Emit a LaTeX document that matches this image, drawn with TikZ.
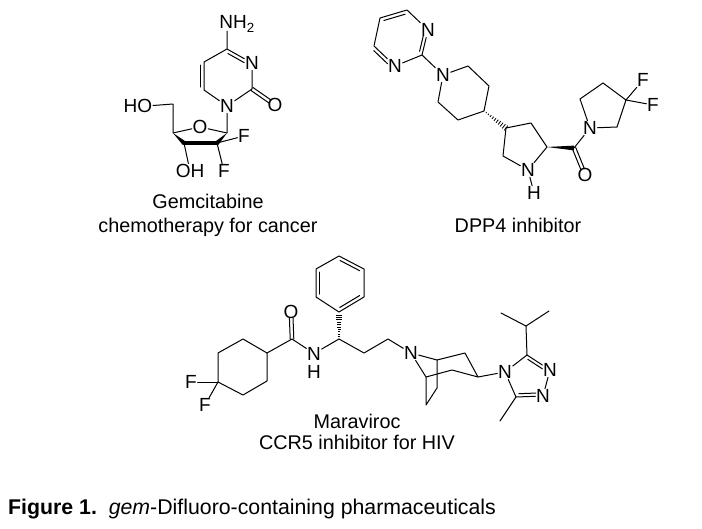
\documentclass[tikz,border=0pt]{standalone}
\usepackage{fontspec}
\setmainfont{Liberation Sans}
\usetikzlibrary{calc}
\tikzset{
  bond/.style={line width=1pt,line cap=round,line join=round,black},
  atom/.style={inner sep=0.6pt,font=\fontsize{19}{20}\selectfont,text=black},
  caption/.style={inner sep=0pt,font=\fontsize{19.8}{22}\selectfont,text=black,anchor=base},
  figcap/.style={inner sep=0pt,font=\fontsize{21.3}{24}\selectfont,text=black,anchor=base west},
}
\newcommand{\innerbond}[5]{\draw[bond,shorten <=#1pt,shorten >=#2pt] ($(#4)!#3pt!90:(#5)$) -- ($(#5)!#3pt!-90:(#4)$);}
\newcommand{\wedgebond}[3]{\fill[black] (#1) -- ($(#2)!#3pt!90:(#1)$) -- ($(#2)!#3pt!-90:(#1)$) -- cycle;}
\newcommand{\hashbond}[3]{\foreach \t in {0.1,0.2,...,1.01} {%
  \coordinate (hp) at ($(#1)!\t!(#2)$);
  \pgfmathsetmacro{\w}{\t*#3+0.3}
  \draw[black,line width=0.8pt] ($(hp)!\w pt!90:(#1)$) -- ($(hp)!\w pt!-90:(#1)$);}}
\begin{document}
\begin{tikzpicture}[x=1pt,y=-1pt]
\useasboundingbox[fill=white] (0,0) rectangle (702,528);
%% ---------- Gemcitabine
\node[atom,anchor=west] (gnh) at (218.6,24) {NH\textsubscript{2}};
\coordinate (gnhb) at (227,31);
\coordinate (g4) at (227,49);
\node[atom] (gn3) at (252,63) {N};
\coordinate (g5) at (204,62);
\coordinate (g6) at (204,90);
\node[atom] (gn1) at (227,106) {N};
\coordinate (g2) at (252,89);
\node[atom] (go2) at (275,105) {O};
\coordinate (g1p) at (227,133);
\node[atom] (gor) at (200,127) {O};
\coordinate (g4p) at (173,133);
\coordinate (g3p) at (184,143);
\coordinate (g2p) at (217,143);
\coordinate (gch) at (173,104);
\node[atom,anchor=east] (gho) at (153,105.5) {HO};
\node[atom] (goh) at (190,171) {OH};
\node[atom] (gf1) at (244,136) {F};
\node[atom] (gf2) at (224,171) {F};
\draw[bond] (gnhb) -- (g4) -- (gn3) -- (g2) -- (gn1) -- (g6) -- (g5) -- (g4);
\innerbond{3}{3}{3.5}{g6}{g5}
\innerbond{3}{7}{-3.5}{g4}{gn3}
\innerbond{0}{6}{1.8}{g2}{go2}
\innerbond{0}{6}{-1.8}{g2}{go2}
\draw[bond] (gn1) -- (g1p) -- (gor) -- (g4p) -- (gch) -- (gho.east);
\wedgebond{g4p}{g3p}{2.2}
\wedgebond{g1p}{g2p}{2.2}
\draw[black,line width=4.2pt,line cap=round] (g3p) -- (g2p);
\draw[bond] (g3p) -- (goh);
\draw[bond] (g2p) -- (gf1);
\draw[bond] (g2p) -- (gf2);
\node[caption] (gt1) at (208,208.5) {Gemcitabine};
\node[caption] (gt2) at (208,232) {chemotherapy for cancer};
%% ---------- DPP4 inhibitor
\coordinate (d1) at (407,10);
\node[atom] (dn1) at (428,30) {N};
\coordinate (d2) at (422,55);
\node[atom] (dn3) at (395,66) {N};
\coordinate (d4) at (374,46);
\coordinate (d5) at (380,18);
\node[atom] (dn) at (443,75) {N};
\coordinate (p1) at (468,66);
\coordinate (p2) at (489,86);
\coordinate (p3) at (484,111);
\coordinate (p4) at (458,120);
\coordinate (p5) at (438,102);
\coordinate (r1) at (506,128);
\coordinate (r2) at (531,123);
\coordinate (r3) at (547,147);
\node[atom] (rn) at (528,170) {N};
\coordinate (r5) at (503,156);
\node[atom] (rh) at (534,193) {H};
\coordinate (dc) at (574,148);
\node[atom] (do) at (585,175) {O};
\node[atom] (dn2) at (590,128) {N};
\coordinate (q1) at (580,99);
\coordinate (q2) at (603,83);
\coordinate (q3) at (626,100);
\coordinate (q4) at (617,127);
\node[atom] (df1) at (643,80) {F};
\node[atom] (df2) at (653,105) {F};
\draw[bond] (d1) -- (dn1) -- (d2) -- (dn3) -- (d4) -- (d5) -- (d1);
\innerbond{3}{3}{-3.5}{d5}{d1}
\innerbond{6}{3}{-3.2}{dn1}{d2}
\innerbond{3}{7}{-3.5}{d4}{dn3}
\draw[bond] (d2) -- (dn) -- (p1) -- (p2) -- (p3) -- (p4) -- (p5) -- (dn);
\hashbond{p3}{r1}{2.6}
\draw[bond] (r1) -- (r2) -- (r3) -- (rn) -- (r5) -- (r1);
\draw[bond] (rn) -- (rh);
\wedgebond{r3}{dc}{2.4}
\innerbond{0}{6}{1.8}{dc}{do}
\innerbond{0}{6}{-1.8}{dc}{do}
\draw[bond] (dc) -- (dn2) -- (q1) -- (q2) -- (q3) -- (q4) -- (dn2);
\draw[bond] (q3) -- (df1);
\draw[bond] (q3) -- (df2);
\node[caption] (dt) at (518,232) {DPP4 inhibitor};
%% ---------- Maraviroc
\coordinate (h1) at (339,256);
\coordinate (h2) at (364,269);
\coordinate (h3) at (364,297);
\coordinate (h4) at (339,312);
\coordinate (h5) at (316,297);
\coordinate (h6) at (316,269);
\draw[bond] (h1) -- (h2) -- (h3) -- (h4) -- (h5) -- (h6) -- cycle;
\innerbond{3}{3}{-3.5}{h1}{h2}
\innerbond{3}{3}{-3.5}{h3}{h4}
\innerbond{3}{3}{-3.5}{h5}{h6}
\coordinate (mc) at (339,339);
\coordinate (mh) at (339,315);
\hashbond{mc}{mh}{3}
\node[atom] (mn) at (314,353.5) {N};
\node[atom] (mnh) at (314,372) {H};
\coordinate (ma) at (292,339);
\node[atom] (mo) at (291,312) {O};
\coordinate (c1) at (267,353);
\coordinate (c2) at (243,339);
\coordinate (c3) at (218,353);
\coordinate (c4) at (218,382);
\coordinate (c5) at (243,395);
\coordinate (c6) at (267,381);
\node[atom] (mf1) at (191,382) {F};
\node[atom] (mf2) at (205,405) {F};
\draw[bond] (c1) -- (c2) -- (c3) -- (c4) -- (c5) -- (c6) -- cycle;
\draw[bond] (c4) -- (mf1);
\draw[bond] (c4) -- (mf2);
\draw[bond] (c1) -- (ma) -- (mn) -- (mc);
\innerbond{0}{6}{1.8}{ma}{mo}
\innerbond{0}{6}{-1.8}{ma}{mo}
\coordinate (ch1) at (364,353);
\coordinate (ch2) at (388,339);
\node[atom] (tn) at (411,353) {N};
\draw[bond] (mc) -- (ch1) -- (ch2) -- (tn);
\coordinate (b1) at (437,360);
\coordinate (b2) at (465,353);
\coordinate (b3) at (478,377);
\coordinate (b4) at (452,370);
\coordinate (b5) at (426,377);
\coordinate (b6) at (437,388);
\coordinate (b7) at (426,405);
\draw[bond] (tn) -- (b1) -- (b2) -- (b3) -- (b4) -- (b5) -- (tn);
\draw[bond] (b1) -- (b6) -- (b7) -- (b5);
\node[atom] (zn4) at (505,372) {N};
\coordinate (z3) at (527,355);
\node[atom] (zn2) at (550,370) {N};
\node[atom] (zn1) at (543,396) {N};
\coordinate (z5) at (516,397);
\coordinate (zm) at (500,421);
\coordinate (zi) at (526,326);
\coordinate (zi1) at (501,313);
\coordinate (zi2) at (549,311);
\draw[bond] (b3) -- (zn4) -- (z3) -- (zn2) -- (zn1) -- (z5) -- (zn4);
\innerbond{3}{7}{-3.2}{z3}{zn2}
\innerbond{3}{7}{3.2}{z5}{zn1}
\draw[bond] (z5) -- (zm);
\draw[bond] (z3) -- (zi) -- (zi1);
\draw[bond] (zi) -- (zi2);
\node[caption] (mt1) at (357,428.5) {Maraviroc};
\node[caption] (mt2) at (357,449) {CCR5 inhibitor for HIV};
%% ---------- Figure caption
\node[figcap] (fig) at (8,514.5) {\textbf{Figure 1.}\ \ \textit{gem}-Difluoro-containing pharmaceuticals};
\end{tikzpicture}
\end{document}
